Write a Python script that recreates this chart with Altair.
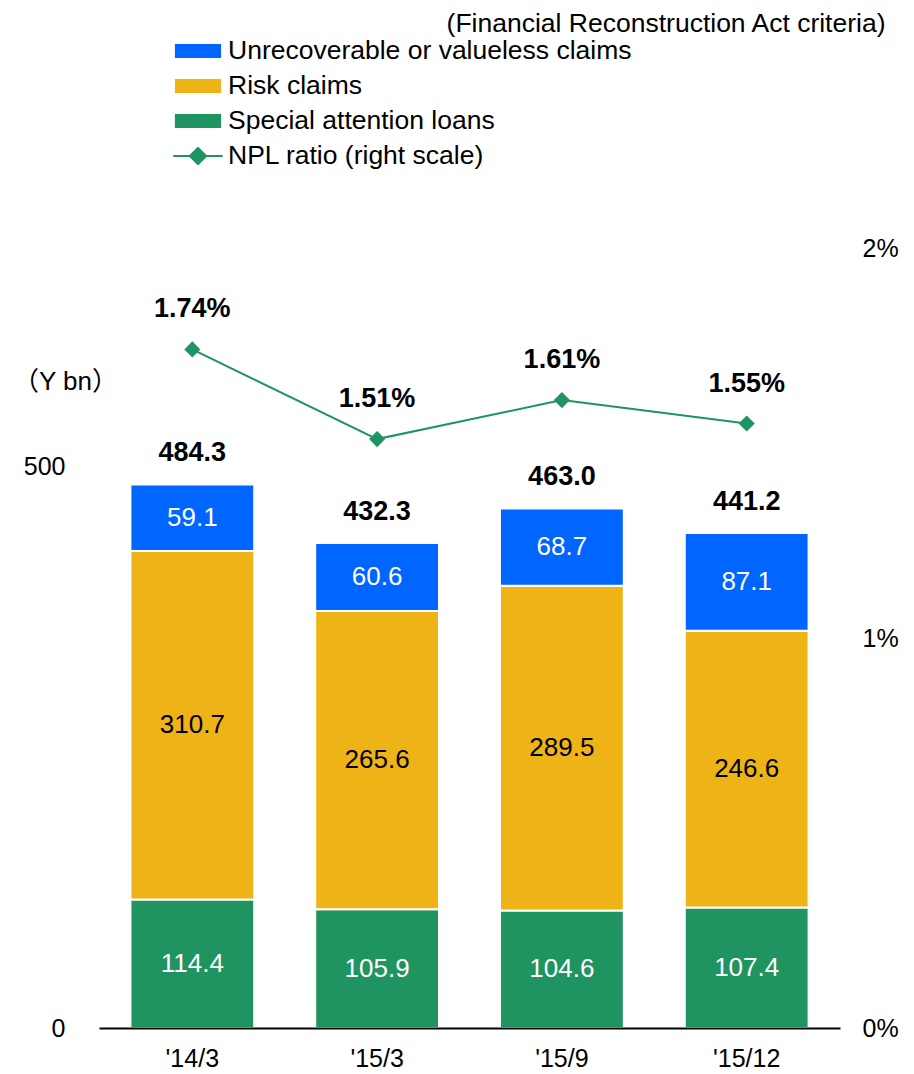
import altair as alt
import pandas as pd

categories = ["'14/3", "'15/3", "'15/9", "'15/12"]
unrecoverable = [59.1, 60.6, 68.7, 87.1]
risk = [310.7, 265.6, 289.5, 246.6]
special = [114.4, 105.9, 104.6, 107.4]
totals = [484.3, 432.3, 463.0, 441.2]
npl_ratio = [1.74, 1.51, 1.61, 1.55]

series_names = [
    "Unrecoverable or valueless claims",
    "Risk claims",
    "Special attention loans",
    "NPL ratio (right scale)",
]
series_colors = ["#0066FF", "#EEB317", "#1F9461", "#1F9461"]
legend_shapes = [
    "M-1.3,-0.35H1.3V0.35H-1.3Z",
    "M-1.3,-0.35H1.3V0.35H-1.3Z",
    "M-1.3,-0.35H1.3V0.35H-1.3Z",
    "M-1.45,0H1.45M0,-0.48L0.48,0L0,0.48L-0.48,0Z",
]

GREEN = "#1F9461"
FONT = "Liberation Sans, Arial, Noto Sans CJK JP, sans-serif"

rows = []
for i, c in enumerate(categories):
    rows.append(dict(category=c, series=series_names[2], value=special[i], order=0))
    rows.append(dict(category=c, series=series_names[1], value=risk[i], order=1))
    rows.append(dict(category=c, series=series_names[0], value=unrecoverable[i], order=2))
bars_df = pd.DataFrame(rows)
tot_df = pd.DataFrame({"category": categories, "total": totals,
                       "npl": [v / 100 for v in npl_ratio]})
leg_df = pd.DataFrame({"series": series_names})

x_enc = alt.X(
    "category:N", sort=categories,
    scale=alt.Scale(paddingInner=0.33, paddingOuter=0.17),
    axis=alt.Axis(title=None, labelAngle=0, labelFontSize=25, labelColor="black",
                  labelFont=FONT, labelPadding=18, ticks=False, domainColor="black",
                  domainWidth=2, zindex=1, grid=False),
)

left_scale = alt.Scale(domain=[0, 695], nice=False, zero=True)
right_scale = alt.Scale(domain=[0, 0.02], nice=False, zero=True)

left_axis = alt.Axis(values=[0, 500], title="（Y bn）", titleAngle=0,
                     titleX=-34, titleY=133, titleAlign="center",
                     titleBaseline="middle", titleFontSize=26,
                     titleFontWeight="normal", titleFont=FONT, titleColor="black",
                     labelFontSize=25, labelFont=FONT, labelColor="black",
                     labelPadding=34, ticks=False, domain=False, grid=False)
right_axis = alt.Axis(orient="right", values=[0, 0.01, 0.02], format=".0%",
                      title="(Financial Reconstruction Act criteria)",
                      titleAngle=0, titleX=45, titleY=-225, titleAlign="right",
                      titleBaseline="middle", titleFontSize=26.5,
                      titleFontWeight="normal", titleFont=FONT, titleColor="black",
                      labelFontSize=25, labelFont=FONT, labelColor="black",
                      labelPadding=22, ticks=False, domain=False, grid=False)

stacked = alt.Chart(bars_df).transform_stack(
    stack="value", groupby=["category"],
    sort=[alt.SortField("order", order="ascending")], as_=["v0", "v1"],
).transform_calculate(mid="(datum.v0 + datum.v1) / 2")

bars = stacked.mark_bar(stroke="white", strokeWidth=2).encode(
    x=x_enc,
    y=alt.Y("v0:Q", scale=left_scale, axis=left_axis),
    y2="v1:Q",
    color=alt.Color("series:N",
                    scale=alt.Scale(domain=series_names[:3], range=series_colors[:3]),
                    legend=None),
)

inner = stacked.mark_text(fontSize=26, font=FONT).encode(
    x=x_enc,
    y=alt.Y("mid:Q", scale=left_scale, axis=left_axis),
    text=alt.Text("value:Q", format=".1f"),
    fill=alt.condition(alt.datum.series == "Risk claims",
                       alt.value("black"), alt.value("white")),
)

totals_text = alt.Chart(tot_df).mark_text(
    fontSize=27, fontWeight="bold", dy=-31, font=FONT, color="black"
).encode(
    x=x_enc,
    y=alt.Y("total:Q", scale=left_scale, axis=left_axis),
    text=alt.Text("total:Q", format=".1f"),
)

line = alt.Chart(tot_df).mark_line(color=GREEN, strokeWidth=2).encode(
    x=x_enc,
    y=alt.Y("npl:Q", scale=right_scale, axis=right_axis),
)

pts = alt.Chart(tot_df).mark_point(shape="diamond", filled=True, size=260,
                                   color=GREEN, opacity=1).encode(
    x=x_enc,
    y=alt.Y("npl:Q", scale=right_scale, axis=right_axis),
)

npl_text = alt.Chart(tot_df).mark_text(
    fontSize=27, fontWeight="bold", dy=-40, font=FONT, color="black"
).encode(
    x=x_enc,
    y=alt.Y("npl:Q", scale=right_scale, axis=right_axis),
    text=alt.Text("npl:Q", format=".2%"),
)

leg = alt.Legend(title=None, orient="none", legendX=81, legendY=-215,
                 direction="vertical", symbolSize=1156, symbolStrokeWidth=2,
                 symbolOpacity=1, labelFontSize=26.5, labelFont=FONT,
                 labelColor="black", labelOffset=12, rowPadding=3, padding=0,
                 labelLimit=700)

legend_layer = alt.Chart(leg_df).mark_point(filled=True, opacity=0).encode(
    fill=alt.Fill("series:N", scale=alt.Scale(domain=series_names, range=series_colors), legend=leg),
    stroke=alt.Stroke("series:N", scale=alt.Scale(domain=series_names, range=series_colors), legend=leg),
    shape=alt.Shape("series:N", scale=alt.Scale(domain=series_names, range=legend_shapes), legend=leg),
)

left = alt.layer(bars, inner, totals_text)
right = alt.layer(line, pts, npl_text)

chart = alt.layer(left, right, legend_layer).resolve_scale(y="independent").properties(
    width=741, height=780,
    autosize=alt.AutoSizeParams(type="none"),
    padding={"left": 91, "top": 240, "right": 60, "bottom": 46},
).configure_view(stroke=None)

chart.save("out.html", embed_options={"renderer": "svg", "actions": False})
